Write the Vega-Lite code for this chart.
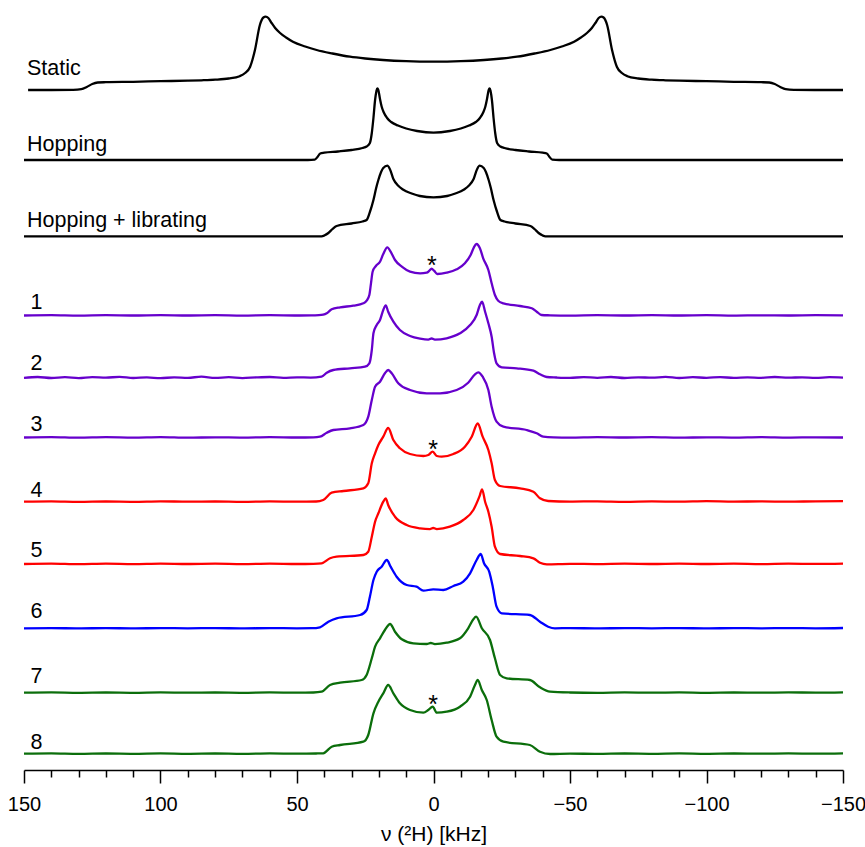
{
"$schema": "https://vega.github.io/schema/vega-lite/v6.json",
"autosize": {"type": "none"},
"padding": {"left": 24, "top": 0, "right": 22, "bottom": 77},
"width": 819,
"height": 770,
"config": {"view": {"stroke": null}, "font": "Liberation Sans"},
"datasets": {
"labels": [
{"t": "Static", "x": 148.9, "y": 693},
{"t": "Hopping", "x": 148.9, "y": 617},
{"t": "Hopping + librating", "x": 148.9, "y": 541.3},
{"t": "1", "x": 147.6, "y": 458.7},
{"t": "2", "x": 147.6, "y": 398},
{"t": "3", "x": 147.6, "y": 337.3},
{"t": "4", "x": 147.6, "y": 270.7},
{"t": "5", "x": 147.6, "y": 210.7},
{"t": "6", "x": 147.6, "y": 150.3},
{"t": "7", "x": 147.6, "y": 84.7},
{"t": "8", "x": 147.6, "y": 18.7}
],
"stars": [
{"t": "*", "x": 0.6, "y": 494.5},
{"t": "*", "x": 0.1, "y": 310.5},
{"t": "*", "x": 0.1, "y": 55}
],
"spectra": [
{"s":"Static","x":148.5,"y":678},{"s":"Static","x":140,"y":678},{"s":"Static","x":132,"y":678.2},{"s":"Static","x":129,"y":678.8},{"s":"Static","x":127,"y":681},{"s":"Static","x":125,"y":684},{"s":"Static","x":123,"y":685.5},{"s":"Static","x":120,"y":685.8},{"s":"Static","x":110,"y":686.2},{"s":"Static","x":100,"y":686.8},{"s":"Static","x":90,"y":687.3},{"s":"Static","x":85,"y":687.7},{"s":"Static","x":80,"y":688.3},{"s":"Static","x":75,"y":689.5},{"s":"Static","x":71,"y":691.8},{"s":"Static","x":69,"y":695},{"s":"Static","x":67.2,"y":701},{"s":"Static","x":65.4,"y":718},{"s":"Static","x":63.6,"y":743},{"s":"Static","x":62.3,"y":750.5},{"s":"Static","x":61.5,"y":751.3},{"s":"Static","x":60.5,"y":750},{"s":"Static","x":59.3,"y":745},{"s":"Static","x":58,"y":740},{"s":"Static","x":56.2,"y":735},{"s":"Static","x":54,"y":730.5},{"s":"Static","x":51.5,"y":726.3},{"s":"Static","x":47,"y":721.5},{"s":"Static","x":42.8,"y":718},{"s":"Static","x":37,"y":714.5},{"s":"Static","x":30.6,"y":711.3},{"s":"Static","x":25,"y":709.5},{"s":"Static","x":18.5,"y":708},{"s":"Static","x":10,"y":706.8},{"s":"Static","x":0,"y":706.3},
{"s":"Static","x":-10,"y":706.8},{"s":"Static","x":-18.5,"y":708},{"s":"Static","x":-25,"y":709.5},{"s":"Static","x":-30.6,"y":711.3},{"s":"Static","x":-37,"y":714.5},{"s":"Static","x":-42.8,"y":718},{"s":"Static","x":-47,"y":721.5},{"s":"Static","x":-51.5,"y":726.3},{"s":"Static","x":-54,"y":730.5},{"s":"Static","x":-56.2,"y":735},{"s":"Static","x":-58,"y":740},{"s":"Static","x":-59.3,"y":745},{"s":"Static","x":-60.5,"y":750},{"s":"Static","x":-61.5,"y":751.3},{"s":"Static","x":-62.3,"y":750.5},{"s":"Static","x":-63.6,"y":743},{"s":"Static","x":-65.4,"y":718},{"s":"Static","x":-67.2,"y":701},{"s":"Static","x":-69,"y":695},{"s":"Static","x":-71,"y":691.8},{"s":"Static","x":-75,"y":689.5},{"s":"Static","x":-80,"y":688.3},{"s":"Static","x":-85,"y":687.7},{"s":"Static","x":-90,"y":687.3},{"s":"Static","x":-100,"y":686.8},{"s":"Static","x":-110,"y":686.2},{"s":"Static","x":-120,"y":685.8},{"s":"Static","x":-123,"y":685.5},{"s":"Static","x":-125,"y":684},{"s":"Static","x":-127,"y":681},{"s":"Static","x":-129,"y":678.8},{"s":"Static","x":-132,"y":678.2},{"s":"Static","x":-140,"y":678},{"s":"Static","x":-150,"y":678},

{"s":"Hopping","x":150,"y":608},{"s":"Hopping","x":46,"y":608},{"s":"Hopping","x":43.5,"y":608.3},{"s":"Hopping","x":42.5,"y":611},{"s":"Hopping","x":41.5,"y":614.5},{"s":"Hopping","x":40,"y":615.3},{"s":"Hopping","x":35,"y":616.5},{"s":"Hopping","x":30,"y":618},{"s":"Hopping","x":26,"y":620},{"s":"Hopping","x":24.5,"y":621.5},{"s":"Hopping","x":23.3,"y":625},{"s":"Hopping","x":22.6,"y":635},{"s":"Hopping","x":22,"y":650},{"s":"Hopping","x":21.4,"y":668},{"s":"Hopping","x":20.9,"y":677},{"s":"Hopping","x":20.6,"y":679.7},{"s":"Hopping","x":20.2,"y":678},{"s":"Hopping","x":19.6,"y":669},{"s":"Hopping","x":19,"y":661.5},{"s":"Hopping","x":18.2,"y":655.5},{"s":"Hopping","x":17,"y":650},{"s":"Hopping","x":15.5,"y":646},{"s":"Hopping","x":13,"y":642.5},{"s":"Hopping","x":10,"y":639.5},{"s":"Hopping","x":6,"y":637},{"s":"Hopping","x":0,"y":635.3},
{"s":"Hopping","x":-6,"y":637},{"s":"Hopping","x":-10,"y":639.5},{"s":"Hopping","x":-13,"y":642.5},{"s":"Hopping","x":-15.5,"y":646},{"s":"Hopping","x":-17,"y":650},{"s":"Hopping","x":-18.2,"y":655.5},{"s":"Hopping","x":-19,"y":661.5},{"s":"Hopping","x":-19.6,"y":669},{"s":"Hopping","x":-20.2,"y":678},{"s":"Hopping","x":-20.6,"y":679.7},{"s":"Hopping","x":-20.9,"y":677},{"s":"Hopping","x":-21.4,"y":668},{"s":"Hopping","x":-22,"y":650},{"s":"Hopping","x":-22.6,"y":635},{"s":"Hopping","x":-23.3,"y":625},{"s":"Hopping","x":-24.5,"y":621.5},{"s":"Hopping","x":-26,"y":620},{"s":"Hopping","x":-30,"y":618},{"s":"Hopping","x":-35,"y":616.5},{"s":"Hopping","x":-40,"y":615.3},{"s":"Hopping","x":-41.5,"y":614.5},{"s":"Hopping","x":-42.5,"y":611},{"s":"Hopping","x":-43.5,"y":608.3},{"s":"Hopping","x":-46,"y":608},{"s":"Hopping","x":-150,"y":608},

{"s":"Hopping + librating","x":150,"y":531.7},{"s":"Hopping + librating","x":41,"y":531.7},{"s":"Hopping + librating","x":40,"y":532.5},{"s":"Hopping + librating","x":38.5,"y":535},{"s":"Hopping + librating","x":37,"y":539},{"s":"Hopping + librating","x":35.5,"y":542},{"s":"Hopping + librating","x":30,"y":544.5},{"s":"Hopping + librating","x":26,"y":546.5},{"s":"Hopping + librating","x":24.5,"y":548},{"s":"Hopping + librating","x":23.3,"y":556},{"s":"Hopping + librating","x":22,"y":568},{"s":"Hopping + librating","x":21,"y":580},{"s":"Hopping + librating","x":20.2,"y":588},{"s":"Hopping + librating","x":19.2,"y":596},{"s":"Hopping + librating","x":18.4,"y":600},{"s":"Hopping + librating","x":16.9,"y":602.3},{"s":"Hopping + librating","x":16,"y":599},{"s":"Hopping + librating","x":14.7,"y":589},{"s":"Hopping + librating","x":13,"y":582.5},{"s":"Hopping + librating","x":11.2,"y":578.5},{"s":"Hopping + librating","x":8,"y":574.5},{"s":"Hopping + librating","x":5,"y":572},{"s":"Hopping + librating","x":0,"y":570.7},
{"s":"Hopping + librating","x":-5,"y":572},{"s":"Hopping + librating","x":-8,"y":574.5},{"s":"Hopping + librating","x":-11.2,"y":578.5},{"s":"Hopping + librating","x":-13,"y":582.5},{"s":"Hopping + librating","x":-14.7,"y":589},{"s":"Hopping + librating","x":-16,"y":599},{"s":"Hopping + librating","x":-16.9,"y":602.3},{"s":"Hopping + librating","x":-18.4,"y":600},{"s":"Hopping + librating","x":-19.2,"y":596},{"s":"Hopping + librating","x":-20.2,"y":588},{"s":"Hopping + librating","x":-21,"y":580},{"s":"Hopping + librating","x":-22,"y":568},{"s":"Hopping + librating","x":-23.3,"y":556},{"s":"Hopping + librating","x":-24.5,"y":548},{"s":"Hopping + librating","x":-26,"y":546.5},{"s":"Hopping + librating","x":-30,"y":544.5},{"s":"Hopping + librating","x":-35.5,"y":542},{"s":"Hopping + librating","x":-37,"y":539},{"s":"Hopping + librating","x":-38.5,"y":535},{"s":"Hopping + librating","x":-40,"y":532.5},{"s":"Hopping + librating","x":-41,"y":531.7},{"s":"Hopping + librating","x":-150,"y":531.7},

{"s":"1","x":150,"y":452.5},{"s":"1","x":140,"y":452.9},{"s":"1","x":130,"y":452.4},{"s":"1","x":120,"y":452.8},{"s":"1","x":110,"y":452.5},{"s":"1","x":100,"y":452.9},{"s":"1","x":90,"y":452.5},{"s":"1","x":80,"y":452.8},{"s":"1","x":70,"y":452.4},{"s":"1","x":60,"y":452.8},{"s":"1","x":50,"y":452.5},{"s":"1","x":44,"y":452.7},{"s":"1","x":42,"y":452.8},{"s":"1","x":40.4,"y":453.3},{"s":"1","x":39.1,"y":454.7},{"s":"1","x":37.3,"y":458.7},{"s":"1","x":34.2,"y":460.7},{"s":"1","x":29.4,"y":462.3},{"s":"1","x":25.7,"y":464.7},{"s":"1","x":24.5,"y":467.3},{"s":"1","x":23.5,"y":473},{"s":"1","x":22.9,"y":484.7},{"s":"1","x":22.3,"y":496.3},{"s":"1","x":21.1,"y":502},{"s":"1","x":19.6,"y":506.3},{"s":"1","x":18.4,"y":514},{"s":"1","x":16.9,"y":520.7},{"s":"1","x":15.7,"y":516.3},{"s":"1","x":14.1,"y":508},{"s":"1","x":11.6,"y":501.3},{"s":"1","x":8.6,"y":496.3},{"s":"1","x":4.9,"y":494.7},{"s":"1","x":2.5,"y":495.3},{"s":"1","x":1.5,"y":497.3},{"s":"1","x":0.7,"y":499.3},{"s":"1","x":-0.2,"y":497.3},{"s":"1","x":-1.4,"y":494},{"s":"1","x":-4.8,"y":495.3},{"s":"1","x":-8.5,"y":498.7},{"s":"1","x":-11.5,"y":504.7},{"s":"1","x":-13.6,"y":513},{"s":"1","x":-14.8,"y":520.7},{"s":"1","x":-15.8,"y":524},{"s":"1","x":-17,"y":519.7},{"s":"1","x":-18.2,"y":509.7},{"s":"1","x":-20.1,"y":498},{"s":"1","x":-21.3,"y":484.7},{"s":"1","x":-22.5,"y":473},{"s":"1","x":-23.7,"y":467.3},{"s":"1","x":-25.6,"y":464.7},{"s":"1","x":-31.7,"y":462},{"s":"1","x":-36,"y":459.7},{"s":"1","x":-37.8,"y":456.3},{"s":"1","x":-39.6,"y":453},{"s":"1","x":-42.7,"y":452.7},{"s":"1","x":-50,"y":452.4},{"s":"1","x":-60,"y":452.8},{"s":"1","x":-70,"y":452.5},{"s":"1","x":-80,"y":452.9},{"s":"1","x":-90,"y":452.5},{"s":"1","x":-100,"y":452.8},{"s":"1","x":-110,"y":452.4},{"s":"1","x":-120,"y":452.7},{"s":"1","x":-130,"y":452.5},{"s":"1","x":-140,"y":452.8},{"s":"1","x":-150,"y":452.6},

{"s":"2","x":150,"y":390.2},{"s":"2","x":145,"y":391},{"s":"2","x":140,"y":390},{"s":"2","x":135,"y":390.8},{"s":"2","x":130,"y":389.9},{"s":"2","x":125,"y":390.9},{"s":"2","x":120,"y":390.3},{"s":"2","x":115,"y":391.2},{"s":"2","x":110,"y":390},{"s":"2","x":105,"y":390.6},{"s":"2","x":100,"y":389.8},{"s":"2","x":95,"y":390.7},{"s":"2","x":90,"y":390.2},{"s":"2","x":85,"y":391.3},{"s":"2","x":80,"y":390.1},{"s":"2","x":75,"y":390.8},{"s":"2","x":70,"y":389.9},{"s":"2","x":65,"y":390.6},{"s":"2","x":60,"y":391},{"s":"2","x":55,"y":390.1},{"s":"2","x":50,"y":390.7},{"s":"2","x":45,"y":390.4},{"s":"2","x":41,"y":391.3},{"s":"2","x":39.1,"y":395.3},{"s":"2","x":36.7,"y":398},{"s":"2","x":30.6,"y":399.7},{"s":"2","x":25.1,"y":401.3},{"s":"2","x":23.5,"y":404.7},{"s":"2","x":22.6,"y":418},{"s":"2","x":22,"y":434.7},{"s":"2","x":20.8,"y":443},{"s":"2","x":19.6,"y":448},{"s":"2","x":18.4,"y":458},{"s":"2","x":17.5,"y":462.7},{"s":"2","x":16.6,"y":456.3},{"s":"2","x":14.7,"y":446.3},{"s":"2","x":12.3,"y":438},{"s":"2","x":8.6,"y":432},{"s":"2","x":4.9,"y":429.3},{"s":"2","x":1.9,"y":428.3},{"s":"2","x":0.7,"y":429.5},{"s":"2","x":-0.5,"y":428.3},{"s":"2","x":-4.8,"y":429.7},{"s":"2","x":-9.7,"y":434.7},{"s":"2","x":-13.4,"y":443},{"s":"2","x":-15.8,"y":453},{"s":"2","x":-17,"y":463},{"s":"2","x":-17.8,"y":466.3},{"s":"2","x":-18.9,"y":456.3},{"s":"2","x":-20.1,"y":444.7},{"s":"2","x":-21.3,"y":431.3},{"s":"2","x":-22.2,"y":414.7},{"s":"2","x":-23.1,"y":404.7},{"s":"2","x":-25,"y":400.7},{"s":"2","x":-30.5,"y":399.7},{"s":"2","x":-36.6,"y":397.3},{"s":"2","x":-39,"y":393.7},{"s":"2","x":-41.5,"y":391},{"s":"2","x":-45,"y":390.5},{"s":"2","x":-50,"y":390.1},{"s":"2","x":-55,"y":390.9},{"s":"2","x":-60,"y":390.2},{"s":"2","x":-65,"y":391},{"s":"2","x":-70,"y":390},{"s":"2","x":-75,"y":390.7},{"s":"2","x":-80,"y":390.3},{"s":"2","x":-85,"y":391.1},{"s":"2","x":-90,"y":390},{"s":"2","x":-95,"y":390.8},{"s":"2","x":-100,"y":390.2},{"s":"2","x":-105,"y":390.9},{"s":"2","x":-110,"y":390.1},{"s":"2","x":-115,"y":390.6},{"s":"2","x":-120,"y":390.2},{"s":"2","x":-125,"y":391},{"s":"2","x":-130,"y":390.3},{"s":"2","x":-135,"y":390.7},{"s":"2","x":-140,"y":390.1},{"s":"2","x":-145,"y":390.8},{"s":"2","x":-150,"y":390.4},

{"s":"3","x":150,"y":330.5},{"s":"3","x":140,"y":330.9},{"s":"3","x":130,"y":330.3},{"s":"3","x":120,"y":330.8},{"s":"3","x":110,"y":330.4},{"s":"3","x":100,"y":330.9},{"s":"3","x":90,"y":330.3},{"s":"3","x":80,"y":330.7},{"s":"3","x":70,"y":330.4},{"s":"3","x":60,"y":330.9},{"s":"3","x":50,"y":330.5},{"s":"3","x":44,"y":330.7},{"s":"3","x":41.6,"y":331.3},{"s":"3","x":39.1,"y":335.3},{"s":"3","x":36.7,"y":338},{"s":"3","x":30.6,"y":339.7},{"s":"3","x":25.7,"y":343},{"s":"3","x":23.9,"y":351.3},{"s":"3","x":22.6,"y":368},{"s":"3","x":21.4,"y":381.3},{"s":"3","x":19.6,"y":386.3},{"s":"3","x":17.8,"y":394.7},{"s":"3","x":16.6,"y":398},{"s":"3","x":15.3,"y":394.7},{"s":"3","x":12.9,"y":384.7},{"s":"3","x":8.6,"y":378},{"s":"3","x":2.5,"y":374.7},{"s":"3","x":-2.4,"y":374.7},{"s":"3","x":-8.5,"y":378},{"s":"3","x":-12.7,"y":385.3},{"s":"3","x":-15.2,"y":393.7},{"s":"3","x":-16.4,"y":395.7},{"s":"3","x":-18,"y":391.3},{"s":"3","x":-20.1,"y":378},{"s":"3","x":-21.3,"y":361.3},{"s":"3","x":-23.1,"y":346.3},{"s":"3","x":-25.6,"y":341.3},{"s":"3","x":-34.1,"y":338},{"s":"3","x":-37.8,"y":334.7},{"s":"3","x":-40.2,"y":331.3},{"s":"3","x":-44,"y":330.6},{"s":"3","x":-50,"y":330.4},{"s":"3","x":-60,"y":330.9},{"s":"3","x":-70,"y":330.5},{"s":"3","x":-80,"y":330.8},{"s":"3","x":-90,"y":330.3},{"s":"3","x":-100,"y":330.7},{"s":"3","x":-110,"y":330.4},{"s":"3","x":-120,"y":330.9},{"s":"3","x":-130,"y":330.4},{"s":"3","x":-140,"y":330.7},{"s":"3","x":-150,"y":330.5},

{"s":"4","x":150,"y":266.3},{"s":"4","x":140,"y":266.6},{"s":"4","x":130,"y":266.1},{"s":"4","x":120,"y":266.5},{"s":"4","x":110,"y":266.2},{"s":"4","x":100,"y":266.7},{"s":"4","x":90,"y":266.3},{"s":"4","x":80,"y":266.5},{"s":"4","x":70,"y":266.1},{"s":"4","x":60,"y":266.6},{"s":"4","x":50,"y":266.3},{"s":"4","x":43,"y":266.5},{"s":"4","x":40.4,"y":268},{"s":"4","x":37.3,"y":275.3},{"s":"4","x":33,"y":277},{"s":"4","x":25.7,"y":279.7},{"s":"4","x":23.9,"y":284.7},{"s":"4","x":22.6,"y":304.7},{"s":"4","x":21.4,"y":314.7},{"s":"4","x":20.2,"y":323},{"s":"4","x":18.4,"y":331.3},{"s":"4","x":16.6,"y":340},{"s":"4","x":14.7,"y":328},{"s":"4","x":12.3,"y":319.7},{"s":"4","x":8.6,"y":314},{"s":"4","x":3.7,"y":312},{"s":"4","x":1.9,"y":313},{"s":"4","x":0.3,"y":316.3},{"s":"4","x":-1.2,"y":312},{"s":"4","x":-3,"y":311.3},{"s":"4","x":-7.3,"y":314},{"s":"4","x":-11.5,"y":321.3},{"s":"4","x":-14,"y":331.3},{"s":"4","x":-16.2,"y":344.5},{"s":"4","x":-18,"y":331.3},{"s":"4","x":-20.1,"y":318},{"s":"4","x":-21.3,"y":304.7},{"s":"4","x":-22.5,"y":288},{"s":"4","x":-24.4,"y":282},{"s":"4","x":-31.7,"y":279.7},{"s":"4","x":-36.6,"y":276.3},{"s":"4","x":-39,"y":269.7},{"s":"4","x":-42,"y":267},{"s":"4","x":-50,"y":266.4},{"s":"4","x":-60,"y":266.7},{"s":"4","x":-70,"y":266.2},{"s":"4","x":-80,"y":266.6},{"s":"4","x":-90,"y":266.3},{"s":"4","x":-100,"y":266.8},{"s":"4","x":-110,"y":266.4},{"s":"4","x":-120,"y":266.6},{"s":"4","x":-130,"y":266.3},{"s":"4","x":-140,"y":266.7},{"s":"4","x":-150,"y":266.8},

{"s":"5","x":150,"y":204},{"s":"5","x":140,"y":204.4},{"s":"5","x":130,"y":203.8},{"s":"5","x":120,"y":204.3},{"s":"5","x":110,"y":203.9},{"s":"5","x":100,"y":204.4},{"s":"5","x":90,"y":204},{"s":"5","x":80,"y":204.3},{"s":"5","x":70,"y":203.9},{"s":"5","x":60,"y":204.4},{"s":"5","x":50,"y":204},{"s":"5","x":44,"y":204.2},{"s":"5","x":41,"y":204.7},{"s":"5","x":37.9,"y":209.7},{"s":"5","x":35.5,"y":211.3},{"s":"5","x":25.7,"y":213},{"s":"5","x":23.9,"y":216.3},{"s":"5","x":22.6,"y":231.3},{"s":"5","x":21.4,"y":246.3},{"s":"5","x":20.2,"y":254.7},{"s":"5","x":18.4,"y":266.3},{"s":"5","x":17.5,"y":269.7},{"s":"5","x":16.6,"y":263},{"s":"5","x":14.1,"y":251.3},{"s":"5","x":9.8,"y":243},{"s":"5","x":4.9,"y":239.7},{"s":"5","x":1.3,"y":238.9},{"s":"5","x":0.1,"y":240},{"s":"5","x":-1.2,"y":238.9},{"s":"5","x":-6,"y":241.3},{"s":"5","x":-10.9,"y":248},{"s":"5","x":-14.6,"y":258},{"s":"5","x":-16.8,"y":271.3},{"s":"5","x":-17.8,"y":278.7},{"s":"5","x":-18.9,"y":266.3},{"s":"5","x":-20.1,"y":256.3},{"s":"5","x":-21.3,"y":241.3},{"s":"5","x":-22.5,"y":221.3},{"s":"5","x":-24.4,"y":214},{"s":"5","x":-31.7,"y":212},{"s":"5","x":-36.6,"y":209.7},{"s":"5","x":-39,"y":205.3},{"s":"5","x":-41.5,"y":203.7},{"s":"5","x":-50,"y":204.2},{"s":"5","x":-60,"y":203.9},{"s":"5","x":-70,"y":204.3},{"s":"5","x":-80,"y":204},{"s":"5","x":-90,"y":204.4},{"s":"5","x":-100,"y":204},{"s":"5","x":-110,"y":204.3},{"s":"5","x":-120,"y":203.9},{"s":"5","x":-130,"y":204.3},{"s":"5","x":-140,"y":204.1},{"s":"5","x":-150,"y":204.4},

{"s":"6","x":150,"y":139.7},{"s":"6","x":140,"y":139.9},{"s":"6","x":130,"y":139.6},{"s":"6","x":120,"y":139.9},{"s":"6","x":110,"y":139.6},{"s":"6","x":100,"y":139.9},{"s":"6","x":90,"y":139.7},{"s":"6","x":80,"y":139.9},{"s":"6","x":70,"y":139.6},{"s":"6","x":60,"y":139.9},{"s":"6","x":50,"y":139.7},{"s":"6","x":44.5,"y":139.8},{"s":"6","x":41.6,"y":140.7},{"s":"6","x":38.5,"y":146.3},{"s":"6","x":35.5,"y":149.7},{"s":"6","x":26.9,"y":153},{"s":"6","x":24.5,"y":158},{"s":"6","x":23.3,"y":171.3},{"s":"6","x":22,"y":188},{"s":"6","x":20.8,"y":196.3},{"s":"6","x":19,"y":201.3},{"s":"6","x":17.1,"y":208},{"s":"6","x":15.7,"y":201.3},{"s":"6","x":13.5,"y":191.3},{"s":"6","x":9.8,"y":183},{"s":"6","x":6.2,"y":181.3},{"s":"6","x":3.7,"y":177.3},{"s":"6","x":0.1,"y":178.7},{"s":"6","x":-3.6,"y":178},{"s":"6","x":-7.3,"y":182},{"s":"6","x":-10.9,"y":186.3},{"s":"6","x":-13.4,"y":194.7},{"s":"6","x":-15.8,"y":208},{"s":"6","x":-17.3,"y":214},{"s":"6","x":-18.5,"y":204.7},{"s":"6","x":-20.4,"y":196.3},{"s":"6","x":-21.7,"y":181.3},{"s":"6","x":-23.1,"y":161.3},{"s":"6","x":-25,"y":154.7},{"s":"6","x":-35.3,"y":153},{"s":"6","x":-39,"y":146.3},{"s":"6","x":-42,"y":141.3},{"s":"6","x":-44.5,"y":139.7},{"s":"6","x":-50,"y":139.9},{"s":"6","x":-60,"y":139.6},{"s":"6","x":-70,"y":139.9},{"s":"6","x":-80,"y":139.7},{"s":"6","x":-90,"y":139.9},{"s":"6","x":-100,"y":139.6},{"s":"6","x":-110,"y":139.9},{"s":"6","x":-120,"y":139.7},{"s":"6","x":-130,"y":139.9},{"s":"6","x":-140,"y":139.7},{"s":"6","x":-150,"y":140},

{"s":"7","x":150,"y":75.3},{"s":"7","x":140,"y":75.6},{"s":"7","x":130,"y":75.2},{"s":"7","x":120,"y":75.5},{"s":"7","x":110,"y":75.2},{"s":"7","x":100,"y":75.6},{"s":"7","x":90,"y":75.3},{"s":"7","x":80,"y":75.5},{"s":"7","x":70,"y":75.2},{"s":"7","x":60,"y":75.6},{"s":"7","x":50,"y":75.3},{"s":"7","x":44,"y":75.5},{"s":"7","x":41,"y":76.3},{"s":"7","x":37.9,"y":83},{"s":"7","x":34.2,"y":85.3},{"s":"7","x":26.3,"y":88},{"s":"7","x":24.5,"y":93},{"s":"7","x":22.6,"y":109.7},{"s":"7","x":21.4,"y":121.3},{"s":"7","x":19.6,"y":129.7},{"s":"7","x":17.8,"y":138},{"s":"7","x":15.9,"y":144},{"s":"7","x":14.1,"y":136.3},{"s":"7","x":11.6,"y":128.7},{"s":"7","x":7.4,"y":124.7},{"s":"7","x":2.5,"y":124},{"s":"7","x":1,"y":125},{"s":"7","x":-0.5,"y":123.9},{"s":"7","x":-4.8,"y":125.3},{"s":"7","x":-9.7,"y":129.7},{"s":"7","x":-12.7,"y":139.7},{"s":"7","x":-14.6,"y":148.7},{"s":"7","x":-15.6,"y":151.3},{"s":"7","x":-17.7,"y":139.7},{"s":"7","x":-20.7,"y":128},{"s":"7","x":-22.5,"y":109.7},{"s":"7","x":-24.4,"y":93},{"s":"7","x":-26.8,"y":89.7},{"s":"7","x":-35.3,"y":88},{"s":"7","x":-39,"y":80.7},{"s":"7","x":-42.7,"y":76.3},{"s":"7","x":-50,"y":75.5},{"s":"7","x":-60,"y":75.2},{"s":"7","x":-70,"y":75.6},{"s":"7","x":-80,"y":75.3},{"s":"7","x":-90,"y":75.6},{"s":"7","x":-100,"y":75.2},{"s":"7","x":-110,"y":75.5},{"s":"7","x":-120,"y":75.3},{"s":"7","x":-130,"y":75.6},{"s":"7","x":-140,"y":75.4},{"s":"7","x":-150,"y":75.7},

{"s":"8","x":150,"y":14.3},{"s":"8","x":140,"y":14.6},{"s":"8","x":130,"y":14.1},{"s":"8","x":120,"y":14.5},{"s":"8","x":110,"y":14.2},{"s":"8","x":100,"y":14.6},{"s":"8","x":90,"y":14.2},{"s":"8","x":80,"y":14.5},{"s":"8","x":70,"y":14.1},{"s":"8","x":60,"y":14.6},{"s":"8","x":50,"y":14.3},{"s":"8","x":43,"y":14.5},{"s":"8","x":40.4,"y":14.7},{"s":"8","x":37.3,"y":21.3},{"s":"8","x":34.2,"y":23},{"s":"8","x":25.7,"y":26.3},{"s":"8","x":23.9,"y":33},{"s":"8","x":22,"y":54.7},{"s":"8","x":20.2,"y":66.3},{"s":"8","x":18.4,"y":74.7},{"s":"8","x":16.6,"y":83},{"s":"8","x":14.7,"y":74.7},{"s":"8","x":12.3,"y":64.7},{"s":"8","x":8.6,"y":58},{"s":"8","x":3.7,"y":55.3},{"s":"8","x":1.9,"y":58},{"s":"8","x":0.3,"y":61.3},{"s":"8","x":-1.2,"y":55.3},{"s":"8","x":-4.8,"y":56.3},{"s":"8","x":-9.7,"y":61.3},{"s":"8","x":-13.4,"y":71.3},{"s":"8","x":-15.2,"y":83},{"s":"8","x":-16.2,"y":88},{"s":"8","x":-17.7,"y":78},{"s":"8","x":-19.5,"y":68},{"s":"8","x":-21.3,"y":48},{"s":"8","x":-23.1,"y":31.3},{"s":"8","x":-25.6,"y":26.3},{"s":"8","x":-35.3,"y":23},{"s":"8","x":-39,"y":16.3},{"s":"8","x":-42.7,"y":14},{"s":"8","x":-50,"y":14.4},{"s":"8","x":-60,"y":14.1},{"s":"8","x":-70,"y":14.5},{"s":"8","x":-80,"y":14.2},{"s":"8","x":-90,"y":14.6},{"s":"8","x":-100,"y":14.2},{"s":"8","x":-110,"y":14.5},{"s":"8","x":-120,"y":14.3},{"s":"8","x":-130,"y":14.6},{"s":"8","x":-140,"y":14.3},{"s":"8","x":-150,"y":14.6}
]
},
"encoding": {
"x": {"field": "x", "type": "quantitative",
 "scale": {"domain": [-150, 150], "reverse": true, "nice": false, "zero": false},
 "axis": {
  "values": [150,140,130,120,110,100,90,80,70,60,50,40,30,20,10,0,-10,-20,-30,-40,-50,-60,-70,-80,-90,-100,-110,-120,-130,-140,-150],
  "format": "d",
  "labelExpr": "datum.value % 50 === 0 ? datum.label : ''",
  "tickSize": {"condition": {"test": "datum.value % 50 === 0", "value": 13}, "value": 7},
  "tickColor": "#000000", "tickWidth": 1.5,
  "domainColor": "#000000", "domainWidth": 1.5,
  "grid": false,
  "labelFont": "Liberation Sans", "labelFontSize": 20, "labelColor": "#000000",
  "labelPadding": 11, "labelOverlap": false, "labelFlush": false, "labelBound": false,
  "title": "ν (²H) [kHz]", "titleFont": "Liberation Sans", "titleFontSize": 21,
  "titleFontWeight": "normal", "titleColor": "#000000", "titlePadding": 9
 }},
"y": {"field": "y", "type": "quantitative", "scale": {"domain": [-2, 768], "nice": false, "zero": false}, "axis": null}
},
"layer": [
{
 "data": {"name": "spectra"},
 "mark": {"type": "line", "strokeWidth": 2.3, "interpolate": "monotone"},
 "encoding": {
  "color": {"field": "s", "type": "nominal", "legend": null,
   "scale": {"domain": ["Static","Hopping","Hopping + librating","1","2","3","4","5","6","7","8"],
    "range": ["#000000","#000000","#000000","#6600cc","#6600cc","#6600cc","#ff0000","#ff0000","#0000ff","#0b6e0b","#0b6e0b"]}},
  "order": {"field": "x", "type": "quantitative", "sort": "descending"}
 }
},
{
 "data": {"name": "labels"},
 "mark": {"type": "text", "align": "left", "baseline": "alphabetic", "fontSize": 21.5, "font": "Liberation Sans", "color": "#000000"},
 "encoding": {"text": {"field": "t"}}
},
{
 "data": {"name": "stars"},
 "mark": {"type": "text", "align": "center", "baseline": "alphabetic", "fontSize": 25, "font": "Liberation Sans", "color": "#000000"},
 "encoding": {"text": {"field": "t"}}
}
]
}
